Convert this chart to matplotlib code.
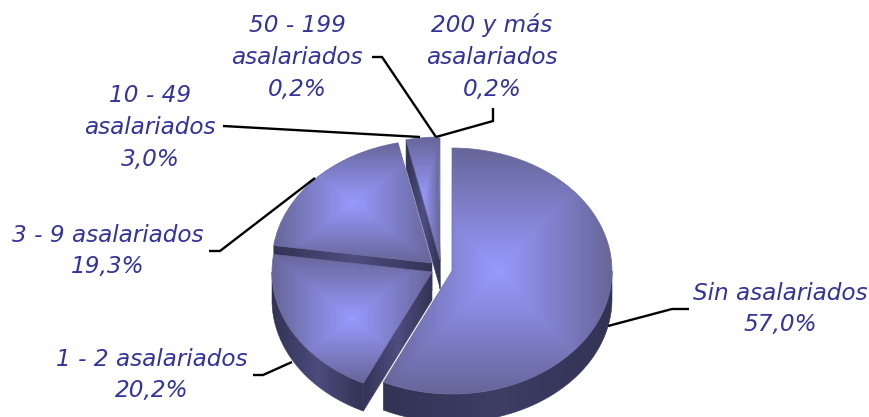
import numpy as np
import matplotlib
matplotlib.use('Agg')
import matplotlib.pyplot as plt
from matplotlib.patches import Polygon
from matplotlib.colors import to_rgb

# datos
categorias = ['Sin asalariados', '1 - 2 asalariados', '3 - 9 asalariados',
              '10 - 49 asalariados', '50 - 199 asalariados', '200 y más asalariados']
valores = [57.0, 20.2, 19.3, 3.0, 0.2, 0.2]
textos = ['Sin asalariados\n57,0%', '1 - 2 asalariados\n20,2%', '3 - 9 asalariados\n19,3%',
          '10 - 49\nasalariados\n3,0%', '50 - 199\nasalariados\n0,2%', '200 y más\nasalariados\n0,2%']

W, H = 870, 417
RX, RY = 160.0, 123.0
X0, Y0 = 452.0, 271.0
DEPTH = 28.0 / RY
AZUL = '#333399'

# centro de cada porcion (pixeles de la imagen), texto y lineas guia
centros = [(452, 271), (432, 272), (432, 263), (440, 260), (440, 261), (440, 261)]
pos_texto = [(780, 309), (152, 375), (108, 251), (150, 127), (297, 57), (492, 57)]
guias = [[(608, 326), (672, 309), (689, 309)],
         [(292, 362), (263, 375), (253, 375)],
         [(315, 178), (220, 251), (209, 251)],
         [(420, 137), (223, 126)],
         [(436, 137), (382, 57), (372, 57)],
         [(436, 137), (493, 121), (493, 108)]]


def a_datos(p):
    return ((p[0] - X0) / RX, (Y0 - p[1]) / RY)


def degradado(ax, patch, medio, borde, z, solo_x=False):
    """ Degradado rectangular desde el centro del bbox, recortado a la forma """
    ext = patch.get_path().get_extents()
    u = np.abs(np.linspace(-1, 1, 300))
    uu, vv = np.meshgrid(u, u)
    t = uu if solo_x else np.maximum(uu, vv)
    c0 = np.array(to_rgb(medio))
    c1 = np.array(to_rgb(borde))
    rgb = c0 + (c1 - c0) * t[..., None]
    im = ax.imshow(rgb, extent=(ext.x0, ext.x1, ext.y0, ext.y1), aspect='auto',
                   interpolation='bilinear', zorder=z)
    im.set_clip_path(patch)


fig = plt.figure(figsize=(W / 100, H / 100), dpi=100)
ax = fig.add_axes([0, 0, 1, 1])
wedges, _ = ax.pie(valores, startangle=90, counterclock=False, radius=1.0)

# se dibuja de atras hacia adelante
orden = [5, 4, 3, 2, 1, 0]
z = 2
for i in orden:
    w = wedges[i]
    w.set_center(a_datos(centros[i]))
    cx, cy = w.center
    t1, t2 = w.theta1, w.theta2

    # pared del corte
    a = np.radians(t2)
    pts = [(cx, cy), (cx + np.cos(a), cy + np.sin(a)),
           (cx + np.cos(a), cy + np.sin(a) - DEPTH), (cx, cy - DEPTH)]
    pared = Polygon(pts, closed=True, facecolor='none', edgecolor='#3f3f6a', lw=0.4, zorder=z)
    ax.add_patch(pared)
    degradado(ax, pared, '#4d4d80', '#333355', z, solo_x=True)
    z += 1

    # pared exterior, solo la mitad de abajo
    lo, hi = max(t1, -180), min(t2, 0)
    if hi > lo:
        ang = np.radians(np.linspace(lo, hi, 80))
        xs = cx + np.cos(ang)
        ys = cy + np.sin(ang)
        pts = np.r_[np.c_[xs, ys], np.c_[xs, ys - DEPTH][::-1]]
        ext_p = Polygon(pts, closed=True, facecolor='none', edgecolor='#333355', lw=0.4, zorder=z)
        ax.add_patch(ext_p)
        medio = '#3d3d66' if i == 0 else '#4b4b7d'
        degradado(ax, ext_p, medio, '#333355', z, solo_x=True)
        z += 1

    # cara de arriba
    w.set_facecolor('none')
    w.set_edgecolor('#6a6a9f')
    w.set_linewidth(0.5)
    w.set_zorder(z + 1)
    degradado(ax, w, '#9999FF', '#666699', z)
    z += 2

ax.set_aspect('auto')
ax.set_xlim(-X0 / RX, (W - X0) / RX)
ax.set_ylim((Y0 - H) / RY, Y0 / RY)
ax.axis('off')

# capa en pixeles para textos y guias
ax2 = fig.add_axes([0, 0, 1, 1])
ax2.set_xlim(0, W)
ax2.set_ylim(H, 0)
ax2.axis('off')
for g in guias:
    g = np.array(g)
    ax2.plot(g[:, 0], g[:, 1], color='black', lw=1.7, solid_joinstyle='miter', solid_capstyle='butt')
for txt, p in zip(textos, pos_texto):
    ax2.text(p[0], p[1], txt, color=AZUL, style='italic', family='DejaVu Sans', fontsize=16.7,
             ha='center', va='center', linespacing=1.5, multialignment='center')

fig.savefig('out.png', dpi=100, facecolor='white')
